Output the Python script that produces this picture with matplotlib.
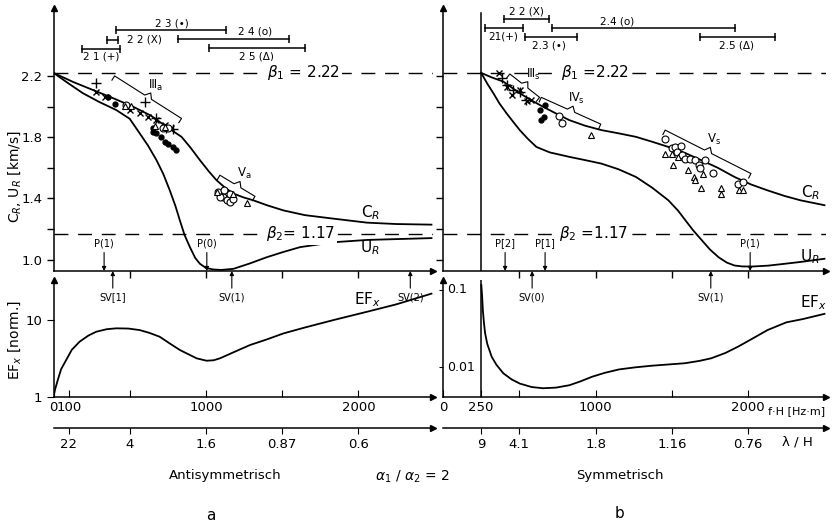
import numpy as np
import matplotlib.pyplot as plt

plt.rcParams['font.family'] = ['DejaVu Sans']
plt.rcParams['mathtext.fontset'] = 'dejavusans'
plt.rcParams['axes.linewidth'] = 1.1

# ---------------- data (f*H in Hz*m, velocities in km/s) ----------------
# antisymmetric (a)
ca_f = [0, 130, 259, 390, 522, 640, 741, 840, 900, 961, 1020, 1070, 1125, 1180, 1250, 1311, 1400, 1509, 1650, 1838, 2057, 2250, 2480]
ca_v = [2.22, 2.16, 2.108, 2.055, 1.999, 1.94, 1.868, 1.802, 1.73, 1.649, 1.575, 1.518, 1.47, 1.431, 1.405, 1.387, 1.355, 1.321, 1.29, 1.267, 1.241, 1.232, 1.228]
ua_f = [0, 100, 193, 300, 412, 500, 566, 620, 676, 720, 763, 800, 829, 860, 895, 930, 961, 1000, 1048, 1100, 1180, 1290, 1399, 1510, 1618, 1838, 2057, 2480]
ua_v = [2.22, 2.15, 2.087, 2.03, 1.977, 1.92, 1.824, 1.745, 1.649, 1.56, 1.452, 1.35, 1.256, 1.16, 1.081, 1.01, 0.972, 0.945, 0.935, 0.932, 0.939, 0.975, 1.015, 1.05, 1.081, 1.113, 1.128, 1.14]
efa_f = [0, 10, 28, 50, 83, 120, 171, 230, 281, 350, 412, 490, 566, 630, 697, 760, 829, 890, 939, 1004, 1050, 1092, 1180, 1289, 1400, 1509, 1650, 1838, 2057, 2250, 2480]
efa_v = [1.0, 1.25, 1.66, 2.3, 3.02, 4.1, 5.23, 6.3, 7.05, 7.6, 7.8, 7.75, 7.4, 6.8, 6.06, 5.0, 4.08, 3.55, 3.18, 2.96, 3.0, 3.18, 3.8, 4.73, 5.6, 6.7, 8.0, 10.0, 12.8, 16.0, 22.0]

# measured points, antisymmetric
pa_f = [281, 599, 675, 741, 785]
pa_v = [2.152, 2.032, 1.922, 1.857, 1.850]
xa_f = [281, 336, 500, 566, 621, 675, 730, 774]
xa_v = [2.097, 2.064, 1.977, 1.955, 1.933, 1.911, 1.879, 1.857]
da_f = [357, 401, 654, 675, 708, 730, 752, 785, 807, 654]
da_v = [2.064, 2.016, 1.861, 1.828, 1.802, 1.769, 1.758, 1.737, 1.715, 1.835]
oa_f = [478, 719, 752, 1081, 1110, 1136, 1158, 1118, 1158, 1180, 1094]
oa_v = [2.010, 1.857, 1.857, 1.442, 1.409, 1.387, 1.376, 1.452, 1.431, 1.398, 1.409]
ta_f = [467, 511, 664, 730, 1070, 1268, 1180]
ta_v = [2.003, 2.003, 1.872, 1.868, 1.442, 1.370, 1.431]

# symmetric (b)
cs_f = [250, 320, 395, 503, 580, 655, 740, 828, 930, 1038, 1150, 1264, 1370, 1477, 1590, 1693, 1800, 1910, 2020, 2127, 2240, 2343, 2500]
cs_v = [2.22, 2.19, 2.163, 2.087, 2.04, 1.999, 1.955, 1.911, 1.875, 1.846, 1.825, 1.802, 1.77, 1.736, 1.695, 1.649, 1.60, 1.540, 1.49, 1.452, 1.415, 1.387, 1.355]
us_f = [250, 290, 330, 370, 417, 460, 503, 555, 612, 700, 828, 930, 1038, 1150, 1264, 1370, 1477, 1540, 1589, 1640, 1697, 1750, 1806, 1860, 1910, 1960, 2022, 2130, 2238, 2350, 2500]
us_v = [2.22, 2.15, 2.087, 2.02, 1.955, 1.90, 1.846, 1.79, 1.736, 1.70, 1.671, 1.65, 1.627, 1.59, 1.540, 1.47, 1.387, 1.32, 1.256, 1.19, 1.125, 1.065, 1.015, 0.98, 0.961, 0.955, 0.954, 0.96, 0.972, 0.985, 1.005]
efs_f = [251, 256, 261, 268, 276, 290, 319, 350, 395, 450, 503, 580, 655, 740, 828, 900, 979, 1060, 1153, 1260, 1369, 1480, 1586, 1680, 1759, 1850, 1932, 2030, 2127, 2250, 2360, 2500]
efs_v = [0.116, 0.085, 0.0551, 0.038, 0.0274, 0.02, 0.0136, 0.0107, 0.0083, 0.0069, 0.0061, 0.0055, 0.0053, 0.0054, 0.0058, 0.0065, 0.0075, 0.0084, 0.0093, 0.0099, 0.0104, 0.0108, 0.0112, 0.012, 0.013, 0.0152, 0.0183, 0.0235, 0.0302, 0.038, 0.042, 0.049]

ps_f = [384, 417, 460, 503, 542]
ps_v = [2.185, 2.141, 2.108, 2.097, 2.043]
xs_f = [369, 421, 449, 503, 551, 579]
xs_v = [2.222, 2.126, 2.075, 2.108, 2.038, 2.043]
ds_f = [633, 666, 644, 659]
ds_v = [1.977, 2.010, 1.911, 1.929]
os_f = [759, 780, 1456, 1499, 1521, 1560, 1531, 1564, 1585, 1618, 1650, 1676, 1715, 1769, 1683, 1932, 1964]
os_v = [1.938, 1.894, 1.785, 1.726, 1.737, 1.743, 1.704, 1.682, 1.654, 1.654, 1.649, 1.616, 1.649, 1.568, 1.595, 1.496, 1.507]
ts_f = [969, 1456, 1499, 1505, 1542, 1603, 1646, 1650, 1694, 1819, 1824, 1943, 1964, 1705]
ts_v = [1.813, 1.689, 1.689, 1.616, 1.671, 1.584, 1.540, 1.518, 1.470, 1.470, 1.431, 1.457, 1.452, 1.557]

# frequency ranges of the measurements
rng_a_lo = [189, 353, 408, 818, 1022]
rng_a_hi = [439, 423, 1132, 1542, 1651]
rng_a_lab = ['2 1 (+)', '2 2 (X)', '2 3 (•)', '2 4 (o)', '2 5 (Δ)']
rng_s_lo = [275, 402, 538, 713, 1685]
rng_s_hi = [527, 697, 881, 1915, 2177]
rng_s_lab = ['21(+)', '2 2 (X)', '2.3 (•)', '2.4 (o)', '2.5 (Δ)']

beta1, beta2 = 2.22, 1.17

# wavelength axis
lam_a_pos = [100, 500, 1000, 1500, 2000]
lam_a_lab = ['22', '4', '1.6', '0.87', '0.6']
lam_s_pos = [250, 500, 1000, 1500, 2000]
lam_s_lab = ['9', '4.1', '1.8', '1.16', '0.76']

# ---------------- layout ----------------
fig = plt.figure(figsize=(8.34, 5.28), dpi=100)
W, H = 834, 528


def box(x0, x1, y_top, y_bot):
    return [x0 / W, 1 - y_bot / H, (x1 - x0) / W, (y_bot - y_top) / H]


ax_ca = fig.add_axes(box(53.5, 433, 8, 271))
ax_ea = fig.add_axes(box(53.5, 433, 280, 397))
ax_la = fig.add_axes(box(53.5, 433, 427, 428))
ax_cs = fig.add_axes(box(443, 826, 8, 271))
ax_es = fig.add_axes(box(443, 826, 280, 397))
ax_ls = fig.add_axes(box(443, 826, 427, 428))

K = 'k'
LW = 1.3


def base(ax, xlim):
    ax.set_xlim(*xlim)
    for s in ['top', 'right']:
        ax.spines[s].set_visible(False)
    ax.patch.set_alpha(0)
    ax.plot(1, 0, marker='>', ms=5, color=K, transform=ax.transAxes, clip_on=False)


def yarrow(ax):
    ax.plot(0, 1, marker='^', ms=5, color=K, transform=ax.transAxes, clip_on=False)


XA = (0, 2490)
XS = (0, 2510)
for ax, xl in [(ax_ca, XA), (ax_ea, XA), (ax_la, XA), (ax_cs, XS), (ax_es, XS), (ax_ls, XS)]:
    base(ax, xl)
for ax in [ax_ca, ax_ea, ax_cs, ax_es]:
    yarrow(ax)

# ---- top panels ----
for ax in [ax_ca, ax_cs]:
    ax.set_ylim(0.925, 2.644)
    ax.set_yticks([1.0, 1.2, 1.4, 1.6, 1.8, 2.0, 2.2])
    ax.set_xticks([500, 1000, 1500, 2000])
    ax.set_xticklabels([])
    ax.tick_params(direction='out', length=5, width=1, labelsize=9.5, pad=3)
    ax.axhline(beta1, color=K, lw=1, ls=(0, (10, 7)))
    ax.axhline(beta2, color=K, lw=1, ls=(0, (10, 7)))
ax_ca.set_yticklabels(['1.0', '', '1.4', '', '1.8', '', '2.2'])
ax_cs.set_yticklabels([])
ax_ca.set_ylabel(r'C$_R$, U$_R$ [km/s]', fontsize=10)
ax_ca.yaxis.set_label_coords(-0.08, 0.36)

ax_ca.plot(ca_f, ca_v, color=K, lw=LW)
ax_ca.plot(ua_f, ua_v, color=K, lw=LW)
ax_cs.plot(cs_f, cs_v, color=K, lw=LW)
ax_cs.plot(us_f, us_v, color=K, lw=LW)
ax_cs.axvline(250, ymin=0, ymax=0.98, color=K, lw=1.1)

mk = dict(color=K, ls='none', clip_on=False)
for ax, p, x, d, o, t in [(ax_ca, (pa_f, pa_v), (xa_f, xa_v), (da_f, da_v), (oa_f, oa_v), (ta_f, ta_v)),
                          (ax_cs, (ps_f, ps_v), (xs_f, xs_v), (ds_f, ds_v), (os_f, os_v), (ts_f, ts_v))]:
    ax.plot(*p, marker='+', ms=7, mew=1, **mk)
    ax.plot(*x, marker='x', ms=5, mew=1, **mk)
    ax.plot(*d, marker='o', ms=3.5, **mk)
    ax.plot(*o, marker='o', ms=5, mfc='white', mew=0.8, **mk)
    ax.plot(*t, marker='^', ms=5, mfc='white', mew=0.8, **mk)

# range bars
bar_a_y = [2.377, 2.436, 2.497, 2.443, 2.384]
lab_a_xy = [(314, 2.325), (599, 2.436), (774, 2.541), (1322, 2.489), (1333, 2.325)]
bar_s_y = [2.515, 2.574, 2.456, 2.515, 2.456]
lab_s_xy = [(396, 2.456), (549, 2.620), (691, 2.397), (1139, 2.554), (1926, 2.397)]
for ax, lo, hi, lab, by, lxy in [(ax_ca, rng_a_lo, rng_a_hi, rng_a_lab, bar_a_y, lab_a_xy),
                                 (ax_cs, rng_s_lo, rng_s_hi, rng_s_lab, bar_s_y, lab_s_xy)]:
    for a, b, t, y, (lx, ly) in zip(lo, hi, lab, by, lxy):
        ax.plot([a, b], [y, y], color=K, lw=1.1, marker='|', ms=6, mew=1.1)
        ax.text(lx, ly, t, fontsize=7.5, ha='center', va='center')

# beta labels
for ax, x1, x2, t1, t2 in [(ax_ca, 1640, 1620, r'$\beta_1$ = 2.22', r'$\beta_2$= 1.17'),
                           (ax_cs, 997, 984, r'$\beta_1$ =2.22', r'$\beta_2$ =1.17')]:
    ax.text(x1, beta1, t1, fontsize=11, ha='center', va='center',
            bbox=dict(fc='white', ec='none', pad=1.5))
    ax.text(x2, beta2, t2, fontsize=11, ha='center', va='center',
            bbox=dict(fc='white', ec='none', pad=1.5))

ax_ca.text(2078, 1.304, r'C$_R$', fontsize=11, ha='center', va='center')
ax_ca.text(2078, 1.075, r'U$_R$', fontsize=11, ha='center', va='center')
ax_cs.text(2407, 1.435, r'C$_R$', fontsize=11, ha='center', va='center')
ax_cs.text(2407, 1.016, r'U$_R$', fontsize=11, ha='center', va='center')


def brace(ax, p1, p2, label, h=5):
    tr = ax.transData
    a = tr.transform(p1)
    b = tr.transform(p2)
    u = (b - a) / np.hypot(*(b - a))
    n = np.array([-u[1], u[0]])
    if n[1] < 0:
        n = -n
    m = (a + b) / 2
    pts = np.array([a - n * h, a, m - u * 4, m + n * h, m + u * 4, b, b - n * h])
    xy = tr.inverted().transform(pts)
    ax.plot(xy[:, 0], xy[:, 1], color=K, lw=0.8)
    lx, ly = tr.inverted().transform(m + n * (h + 9))
    ax.text(lx, ly, label, fontsize=8.5, ha='center', va='center')


fig.canvas.draw()
brace(ax_ca, (401, 2.20), (840, 1.922), r'Ⅲ$_{\rm a}$')
brace(ax_ca, (1092, 1.551), (1322, 1.413), r'Ⅴ$_{\rm a}$')
brace(ax_cs, (438, 2.213), (633, 2.060), r'Ⅲ$_{\rm s}$')
brace(ax_cs, (644, 2.060), (1034, 1.885), r'Ⅳ$_{\rm s}$')
brace(ax_cs, (1456, 1.846), (2018, 1.562), r'Ⅴ$_{\rm s}$')

# P and SV markers
arr = dict(arrowstyle='-|>', color=K, lw=0.8, mutation_scale=6, shrinkA=1, shrinkB=0)
for ax, fs, labs in [(ax_ca, [332, 1006], ['P(1)', 'P(0)']),
                     (ax_cs, [407, 669, 2013], ['P[2]', 'P[1]', 'P(1)'])]:
    for f, t in zip(fs, labs):
        ax.annotate(t, xy=(f, 0), xycoords=('data', 'axes fraction'),
                    xytext=(f, 0.105), textcoords=('data', 'axes fraction'),
                    fontsize=7, ha='center', va='center', arrowprops=arr)
for ax, fs, labs in [(ax_ca, [389, 1170, 2341], ['SV[1]', 'SV(1)', 'SV(2)']),
                     (ax_cs, [584, 1755], ['SV(0)', 'SV(1)'])]:
    for f, t in zip(fs, labs):
        ax.annotate(t, xy=(f, 0), xycoords=('data', 'axes fraction'),
                    xytext=(f, -0.10), textcoords=('data', 'axes fraction'),
                    fontsize=7, ha='center', va='center', arrowprops=arr)

# ---- bottom panels ----
ax_ea.set_yscale('log')
ax_ea.set_ylim(1, 33.1)
ax_ea.set_yticks([1, 10])
ax_ea.set_yticklabels(['1', '10'])
ax_ea.yaxis.set_minor_locator(plt.NullLocator())
ax_ea.tick_params(axis='y', direction='out', length=5, labelsize=9.5, pad=3)
ax_ea.set_xticks([0, 100, 500, 1000, 1500, 2000])
ax_ea.set_xticklabels(['0', '100', '', '1000', '', '2000'])
ax_ea.tick_params(axis='x', direction='in', length=5, labelsize=9.5, pad=3)
ax_ea.plot(efa_f, efa_v, color=K, lw=LW)
ax_ea.set_ylabel(r'EF$_x$ [norm.]', fontsize=10)
ax_ea.yaxis.set_label_coords(-0.08, 0.49)
ax_ea.text(2058, 10 ** (0.83 * np.log10(33.1)), r'EF$_x$', fontsize=11, ha='center', va='center')

ax_es.set_yscale('log')
ax_es.set_ylim(0.00408, 0.1348)
ax_es.set_yticks([0.01, 0.1])
ax_es.set_yticklabels([])
ax_es.yaxis.set_minor_locator(plt.NullLocator())
ax_es.yaxis.set_minor_formatter(plt.NullFormatter())
ax_es.tick_params(axis='y', direction='out', length=3)
ax_es.text(30, 0.1, '0.1', fontsize=9, ha='left', va='center')
ax_es.text(30, 0.01, '0.01', fontsize=9, ha='left', va='center')
ax_es.set_xticks([0, 250, 500, 1000, 1500, 2000])
ax_es.set_xticklabels(['0', '250', '', '1000', '', '2000'])
ax_es.tick_params(axis='x', direction='in', length=5, labelsize=9.5, pad=3)
ax_es.plot(efs_f, efs_v, color=K, lw=LW)
ax_es.axvline(250, color=K, lw=1.1)
ax_es.text(2426, 0.00408 * (0.1348 / 0.00408) ** 0.81, r'EF$_x$', fontsize=11, ha='center', va='center')

# ---- wavelength axes ----
for ax, pos, lab in [(ax_la, lam_a_pos, lam_a_lab), (ax_ls, lam_s_pos, lam_s_lab)]:
    ax.spines['left'].set_visible(False)
    ax.set_yticks([])
    ax.set_xticks(pos)
    ax.set_xticklabels(lab)
    ax.tick_params(axis='x', direction='out', length=4, labelsize=9.5, pad=3)

fig.text(768 / W, 1 - 411 / H, 'f·H [Hz·m]', fontsize=8, ha='left', va='center')
fig.text(797 / W, 1 - 442 / H, 'λ / H', fontsize=9.5, ha='center', va='center')
fig.text(225 / W, 1 - 475 / H, 'Antisymmetrisch', fontsize=9.5, ha='center', va='center')
fig.text(412 / W, 1 - 477 / H, r'$\alpha_1$ / $\alpha_2$ = 2', fontsize=10, ha='center', va='center')
fig.text(620 / W, 1 - 475 / H, 'Symmetrisch', fontsize=9.5, ha='center', va='center')
fig.text(211 / W, 1 - 515 / H, 'a', fontsize=11, ha='center', va='center')
fig.text(620 / W, 1 - 514 / H, 'b', fontsize=11, ha='center', va='center')

fig.savefig('out.png', dpi=100)
